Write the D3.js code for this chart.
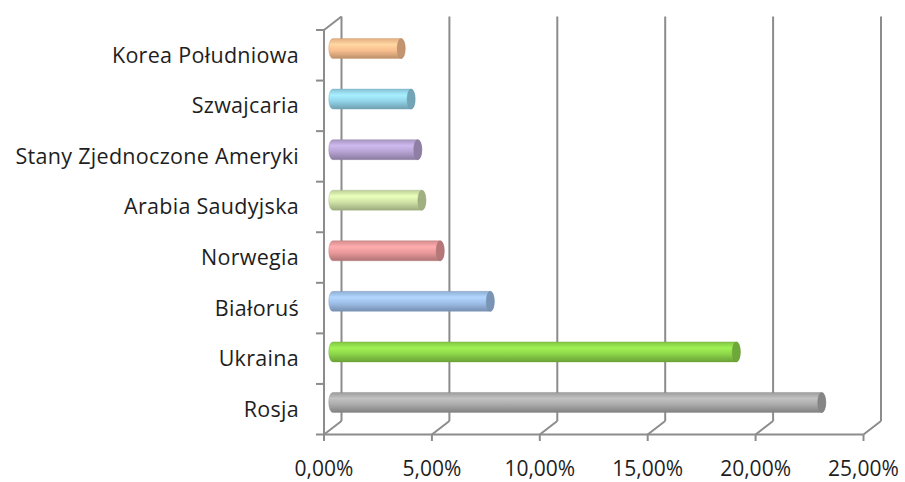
<!DOCTYPE html>
<html>
<head>
<meta charset="utf-8">
<script src="https://cdn.jsdelivr.net/npm/d3@7"></script>
<style>
  body { margin: 0; background: #fff; }
  svg { display: block; }
  .cat-label { font-family: "Open Sans", sans-serif; font-size: 21.5px; letter-spacing: 0.3px; fill: #1e1e1e; }
  .tick-label { font-family: "Open Sans", sans-serif; font-size: 21px; fill: #1e1e1e; }
  .frame { stroke: #8c8c8c; stroke-width: 2; fill: none; }
</style>
</head>
<body>
<div class="chart"></div>
<script>
// data, bottom to top as in the chart
const countries = ["Rosja", "Ukraina", "Białoruś", "Norwegia", "Arabia Saudyjska",
                   "Stany Zjednoczone Ameryki", "Szwajcaria", "Korea Południowa"];
const shares = [0.2266, 0.187, 0.073, 0.0498, 0.0413, 0.0394, 0.0363, 0.0317];
const ticks = [0, 0.05, 0.10, 0.15, 0.20, 0.25];
const tickLabels = ["0,00%", "5,00%", "10,00%", "15,00%", "20,00%", "25,00%"];
const baseColors = ["#ababab", "#8dd64a", "#9dbee8", "#e9999a", "#cfe2a6", "#b7a3d3", "#93d4ea", "#f9be8e"];

const width = 905, height = 482;
const depthX = 17.5, depthY = -13.5;
const floorY = 434.5, topY = 30;

const svg = d3.select(".chart").append("svg")
    .attr("width", width)
    .attr("height", height);

const x = d3.scaleLinear().domain([0, 0.25]).range([324, 863.5]);
const y = d3.scaleBand().domain(countries).range([floorY, topY]);

const defs = svg.append("defs");
baseColors.forEach(function(c, i){
    const g = defs.append("linearGradient")
        .attr("id", "grad" + i)
        .attr("x1", 0).attr("y1", 0).attr("x2", 0).attr("y2", 1);
    const base = d3.color(c);
    g.append("stop").attr("offset", "0%").attr("stop-color", base.darker(0.25));
    g.append("stop").attr("offset", "30%").attr("stop-color", base.brighter(0.35));
    g.append("stop").attr("offset", "60%").attr("stop-color", base);
    g.append("stop").attr("offset", "100%").attr("stop-color", base.darker(0.8));
});

// back wall gridlines
svg.selectAll("line.grid")
    .data(ticks)
    .enter()
    .append("line")
    .attr("class", "frame")
    .attr("x1", d => x(d) + depthX)
    .attr("x2", d => x(d) + depthX)
    .attr("y1", topY + depthY)
    .attr("y2", floorY + depthY);

// floor diagonals
svg.selectAll("line.floor")
    .data(ticks)
    .enter()
    .append("line")
    .attr("class", "frame")
    .attr("x1", d => x(d))
    .attr("y1", floorY)
    .attr("x2", d => x(d) + depthX)
    .attr("y2", floorY + depthY);

// front bottom axis + ticks
svg.append("line").attr("class", "frame")
    .attr("x1", x(0)).attr("x2", x(0.25)).attr("y1", floorY).attr("y2", floorY);
svg.selectAll("line.xtick")
    .data(ticks)
    .enter()
    .append("line")
    .attr("class", "frame")
    .attr("x1", d => x(d)).attr("x2", d => x(d))
    .attr("y1", floorY).attr("y2", floorY + 6.5);

// left front axis, top diagonal, ticks
svg.append("line").attr("class", "frame")
    .attr("x1", x(0)).attr("x2", x(0)).attr("y1", topY).attr("y2", floorY);
svg.append("line").attr("class", "frame")
    .attr("x1", x(0)).attr("y1", topY).attr("x2", x(0) + depthX).attr("y2", topY + depthY);
const bounds = countries.map(d => y(d)).concat([floorY]);
svg.selectAll("line.ytick")
    .data(bounds)
    .enter()
    .append("line")
    .attr("class", "frame")
    .attr("x1", x(0) - 8).attr("x2", x(0))
    .attr("y1", d => d).attr("y2", d => d);

// cylinders
const barH = 20, rx = 4;
const bars = svg.selectAll("g.bar")
    .data(countries)
    .enter()
    .append("g")
    .attr("class", "bar");

bars.each(function(d, i){
    const g = d3.select(this);
    const cy = y(d) + y.bandwidth() / 2 + depthY / 2;
    const x0 = x(0) + depthX / 2;
    const x1 = x(shares[i]) + depthX / 2;
    const top = cy - barH / 2, bot = cy + barH / 2;
    const body = `M${x0},${top} L${x1},${top} A${rx},${barH/2} 0 0 1 ${x1},${bot} L${x0},${bot} A${rx},${barH/2} 0 0 1 ${x0},${top} Z`;
    g.append("path")
        .attr("d", body)
        .attr("fill", "url(#grad" + i + ")")
        .attr("stroke", d3.color(baseColors[i]).darker(0.6))
        .attr("stroke-opacity", 0.5)
        .attr("stroke-width", 0.8);
    g.append("ellipse")
        .attr("cx", x1).attr("cy", cy)
        .attr("rx", rx).attr("ry", barH / 2)
        .attr("fill", d3.color(baseColors[i]).darker(0.7))
        .attr("stroke", d3.color(baseColors[i]).darker(1))
        .attr("stroke-opacity", 0.5)
        .attr("stroke-width", 0.8);
});

// category labels
svg.selectAll("text.cat-label")
    .data(countries)
    .enter()
    .append("text")
    .attr("class", "cat-label")
    .attr("x", 299)
    .attr("y", d => y(d) + y.bandwidth() / 2)
    .attr("dy", "0.35em")
    .attr("text-anchor", "end")
    .text(d => d);

// tick labels
svg.selectAll("text.tick-label")
    .data(ticks)
    .enter()
    .append("text")
    .attr("class", "tick-label")
    .attr("x", d => x(d))
    .attr("y", 476)
    .attr("text-anchor", "middle")
    .text((d, i) => tickLabels[i]);
</script>
</body>
</html>
